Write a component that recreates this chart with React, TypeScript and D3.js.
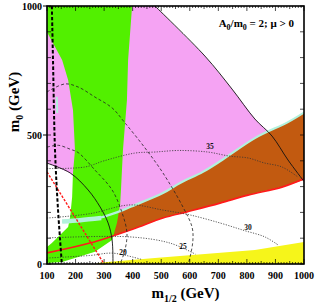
import React from "react";
import * as d3 from "d3";

type P = [number, number];

// regions (m_1/2, m_0) in GeV
const bsgRegion: P[] = [[100,1000],[398,1000],[391,895],[384,791],[380,636],[366,442],[359,287],[356,229],[345,159],[328,93],[268,47],[153,8],[100,4],[100,66],[117,81],[174,143],[181,182],[188,260],[191,353],[198,442],[191,597],[174,713],[153,791],[100,899]];
const gm2Region: P[] = [[100,1000],[478,1000],[653,806],[748,678],[828,562],[874,512],[828,488],[713,403],[646,357],[566,314],[506,275],[391,221],[349,202],[300,215],[244,287],[181,353],[100,391]];
const stauRegion: P[] = [[330,196],[349,202],[391,221],[506,275],[566,314],[646,357],[713,403],[828,488],[944,550],[1000,587],[1000,327],[923,298],[804,267],[706,236],[590,202],[506,178],[400,135],[330,108]];
const yellowRegion: P[] = [[270,0],[1000,0],[1000,85],[828,54],[478,23],[290,6]];

// lines
const relicStrip: P[] = [[153,163],[216,171],[286,180],[349,202],[391,221],[506,275],[566,314],[646,357],[713,403],[828,488],[944,550],[1000,587]];
const relicBlob: P[] = [[153,165],[216,170],[290,178]];
const relicSmall: P[] = [[134,648],[136,585]];
const redSolid: P[] = [[100,43],[250,81],[400,135],[506,178],[590,202],[706,236],[804,267],[923,298],[1000,330]];
const redDashed: P[] = [[100,357],[300,0]];
const blackArc: P[] = [[100,391],[181,353],[244,287],[286,221],[314,159],[328,93],[331,0]];
const blackDiag: P[] = [[478,1000],[653,806],[748,678],[828,562],[888,496],[944,403],[1000,320]];
const charginoLine: P[] = [[117,1000],[121,791],[128,442],[138,221],[152,0]];
const higgsOuter: P[] = [[100,667],[163,698],[209,686],[268,647],[328,605],[373,547],[443,450],[506,353],[576,221],[608,143],[611,93],[601,27],[594,0]];
const higgsInner: P[] = [[100,453],[140,460],[181,445],[209,432],[268,364],[328,287],[363,198],[380,120],[373,54],[356,0]];
const tb35: P[] = [[100,370],[233,376],[300,400],[408,430],[478,434],[560,440],[663,434],[740,418],[804,411],[860,392],[923,376],[979,337]];
const tb30: P[] = [[100,178],[250,195],[391,229],[506,209],[601,190],[706,159],[790,130],[863,105],[909,74]];
const tb25: P[] = [[100,101],[391,105],[531,81],[620,38]];
const tb20: P[] = [[100,23],[250,33],[330,42],[430,18]];

const tbLabels = [
  { t: "35", x: 671, y: 455 },
  { t: "30", x: 804, y: 140 },
  { t: "25", x: 576, y: 68 },
  { t: "20", x: 366, y: 45 },
];

const xTickLabels = [100, 200, 300, 400, 500, 600, 700, 800, 900, 1000];
const yTickLabels = [0, 500, 1000];

const W = 315;
const H = 307;
const margin = { left: 47, right: 11, top: 6, bottom: 43 };
const font = "'Liberation Serif', 'Times New Roman', serif";

const App = () => {
  const x = d3.scaleLinear().domain([100, 1000]).range([margin.left, W - margin.right]);
  const y = d3.scaleLinear().domain([0, 1000]).range([H - margin.bottom, margin.top]);

  const area = d3.line<P>().x(d => x(d[0])).y(d => y(d[1])).curve(d3.curveLinearClosed);
  const line = d3.line<P>().x(d => x(d[0])).y(d => y(d[1])).curve(d3.curveCatmullRom.alpha(0.5));
  const lineStraight = d3.line<P>().x(d => x(d[0])).y(d => y(d[1]));

  const x0 = x(100), x1 = x(1000), y0 = y(0), y1 = y(1000);
  const minorX = d3.range(100, 1001, 10);
  const minorY = d3.range(0, 1001, 100);

  return (
    <svg width={W} height={H} style={{ position: "absolute", left: 0, top: 0, background: "#fff" }}>
      <defs>
        <clipPath id="plot">
          <rect x={x0} y={y1} width={x1 - x0} height={y0 - y1} />
        </clipPath>
      </defs>
      <g clipPath="url(#plot)">
        <path d={area(gm2Region) ?? ""} fill="#f5a3f3" />
        <path d={area(stauRegion) ?? ""} fill="#c25a10" />
        <path d={area(yellowRegion) ?? ""} fill="#f6f51a" />
        <path d={area(bsgRegion) ?? ""} fill="#52f000" />
        <path d={line(relicStrip) ?? ""} fill="none" stroke="#b2f2dc" strokeWidth={2.2} />
        <path d={line(relicBlob) ?? ""} fill="none" stroke="#b2f2dc" strokeWidth={4.5} />
        <path d={line(relicSmall) ?? ""} fill="none" stroke="#b2f2dc" strokeWidth={2} />
        <path d={line(redSolid) ?? ""} fill="none" stroke="#ff1a1a" strokeWidth={1.6} />
        <path d={lineStraight(redDashed) ?? ""} fill="none" stroke="#ff1a1a" strokeWidth={1.4} strokeDasharray="2.5,1.5" />
        <path d={line(blackArc) ?? ""} fill="none" stroke="#111" strokeWidth={0.9} />
        <path d={line(blackDiag) ?? ""} fill="none" stroke="#111" strokeWidth={0.9} />
        <path d={line(charginoLine) ?? ""} fill="none" stroke="#000" strokeWidth={2} strokeDasharray="3.5,2" />
        {[higgsOuter, higgsInner].map((d, i) => (
          <path key={`h${i}`} d={line(d) ?? ""} fill="none" stroke="#222" strokeWidth={0.8} strokeDasharray="3,2.2" />
        ))}
        {[tb35, tb30, tb25, tb20].map((d, i) => (
          <path key={`t${i}`} d={line(d) ?? ""} fill="none" stroke="#333" strokeWidth={0.8} strokeDasharray="1.2,1.4" />
        ))}
        {tbLabels.map(l => (
          <text key={l.t} x={x(l.x)} y={y(l.y)} fontFamily={font} fontWeight="bold" fontSize={7.5}
            textAnchor="middle" dominantBaseline="central" fill="#111">{l.t}</text>
        ))}
      </g>

      {/* ticks */}
      {minorX.map(v => {
        const len = v % 100 === 0 ? 5 : v % 50 === 0 ? 3 : 2;
        return (
          <g key={`xt${v}`} stroke="#000" strokeWidth={0.7}>
            <line x1={x(v)} x2={x(v)} y1={y0} y2={y0 - len} />
            <line x1={x(v)} x2={x(v)} y1={y1} y2={y1 + len} />
          </g>
        );
      })}
      {minorY.map(v => (
        <g key={`yt${v}`} stroke="#000" strokeWidth={0.7}>
          <line x1={x0} x2={x0 + 4} y1={y(v)} y2={y(v)} />
          <line x1={x1} x2={x1 - 4} y1={y(v)} y2={y(v)} />
        </g>
      ))}
      {yTickLabels.map(v => (
        <g key={`yl${v}`}>
          <line x1={x0 - 4} x2={x0} y1={y(v)} y2={y(v)} stroke="#000" strokeWidth={1} />
          <text x={x0 - 5} y={y(v)} dy="0.35em" textAnchor="end" fontFamily={font} fontWeight="bold" fontSize={10}>{v}</text>
        </g>
      ))}
      {xTickLabels.map(v => (
        <text key={`xl${v}`} x={x(v)} y={y0 + 15} textAnchor="middle" fontFamily={font} fontWeight="bold" fontSize={10}>{v}</text>
      ))}

      <rect x={x0} y={y1} width={x1 - x0} height={y0 - y1} fill="none" stroke="#000" strokeWidth={1.6} />

      <text x={x(1000) - 10} y={y1 + 21} textAnchor="end" fontFamily={font} fontWeight="bold" fontSize={11}>
        A<tspan fontSize={8} dy={3}>0</tspan><tspan dy={-3}>/m</tspan><tspan fontSize={8} dy={3}>0</tspan><tspan dy={-3}> = 2; μ &gt; 0</tspan>
      </text>

      <text x={(x0 + x1) / 2 + 10} y={H - 9} textAnchor="middle" fontFamily={font} fontWeight="bold" fontSize={15}>
        m<tspan fontSize={10} dy={4}>1/2</tspan><tspan dy={-4}> (GeV)</tspan>
      </text>
      <text transform={`translate(19, ${(y0 + y1) / 2 - 33}) rotate(-90)`} textAnchor="middle" fontFamily={font} fontWeight="bold" fontSize={15}>
        m<tspan fontSize={10} dy={4}>0</tspan><tspan dy={-4}> (GeV)</tspan>
      </text>
    </svg>
  );
};

export default App;
